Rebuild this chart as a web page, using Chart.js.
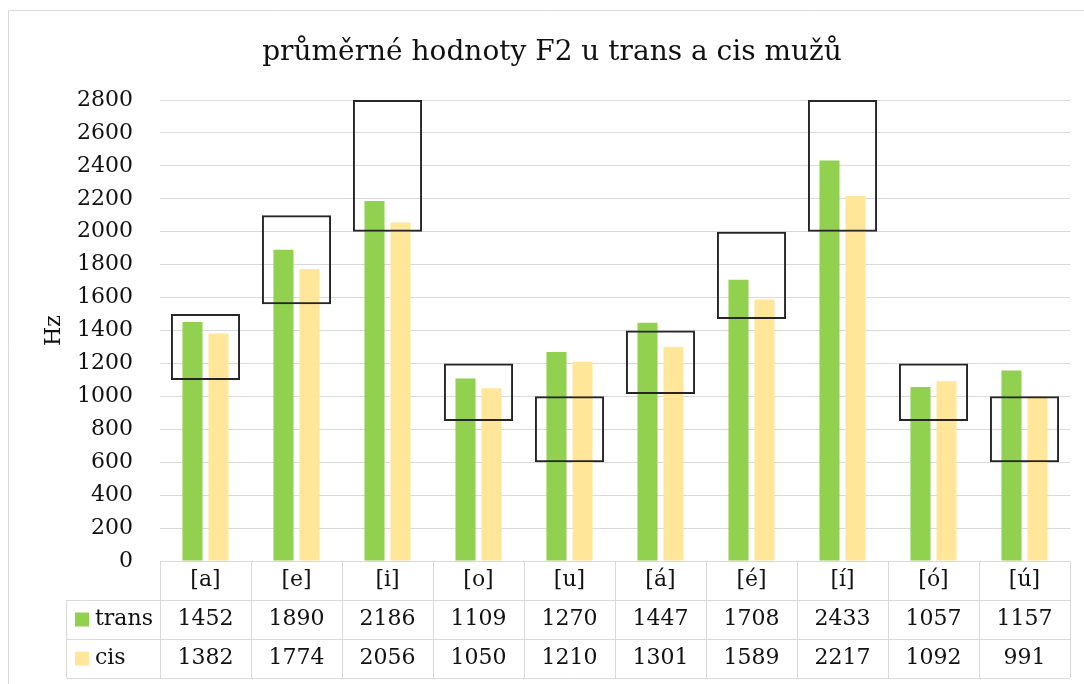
<!DOCTYPE html>
<html>
<head>
<meta charset="utf-8">
<script src="https://cdn.jsdelivr.net/npm/chart.js@4.4.1/dist/chart.umd.min.js"></script>
<style>
    html, body { margin: 0; padding: 0; background: #fff; overflow: hidden; }
    #chart { display: block; }
</style>
</head>
<body>
<canvas id="chart" width="1084" height="684"></canvas>
<script>
const categories = ["[a]", "[e]", "[i]", "[o]", "[u]", "[á]", "[é]", "[í]", "[ó]", "[ú]"];
const transValues = [1452, 1890, 2186, 1109, 1270, 1447, 1708, 2433, 1057, 1157];
const cisValues = [1382, 1774, 2056, 1050, 1210, 1301, 1589, 2217, 1092, 991];
// boxes = range of usual F2 values per vowel
const rangeLow = [1100, 1560, 2000, 850, 600, 1015, 1470, 2000, 850, 600];
const rangeHigh = [1500, 2100, 2800, 1200, 1000, 1400, 2000, 2800, 1200, 1000];
const seriesNames = ["trans", "cis"];
const seriesColors = ["#92d050", "#ffe699"];

const FONT = "'DejaVu Serif', serif";
const TEXT = "#111";
const LINE = "#d9d9d9";

// outer chart frame (only top and left edges are visible in the crop)
const framePlugin = {
    id: "frame",
    beforeDraw(chart) {
        const ctx = chart.ctx;
        ctx.save();
        ctx.strokeStyle = LINE;
        ctx.lineWidth = 1;
        ctx.beginPath();
        ctx.moveTo(8.5, 684);
        ctx.lineTo(8.5, 10.5);
        ctx.lineTo(1084, 10.5);
        ctx.stroke();
        ctx.restore();
    }
};

// data table under the plot, like the Excel one
const tablePlugin = {
    id: "dataTable",
    afterDraw(chart) {
        const ctx = chart.ctx;
        const x = chart.scales.x;
        const area = chart.chartArea;
        const colW = x.getPixelForValue(1) - x.getPixelForValue(0);
        const rowH = 39;
        const top = area.bottom;
        const labelLeft = 66.5;
        const rows = [transValues, cisValues];

        ctx.save();
        ctx.strokeStyle = LINE;
        ctx.lineWidth = 1;
        ctx.beginPath();
        ctx.moveTo(area.left, Math.round(top) + 0.5);
        ctx.lineTo(area.right, Math.round(top) + 0.5);
        for (let r = 1; r <= 3; r++) {
            const y = Math.round(top + r * rowH) + 0.5;
            ctx.moveTo(labelLeft, y);
            ctx.lineTo(area.right, y);
        }
        for (let i = 0; i <= categories.length; i++) {
            const xx = Math.round(area.left + i * colW) + 0.5;
            ctx.moveTo(xx, top);
            ctx.lineTo(xx, top + 3 * rowH);
        }
        ctx.moveTo(labelLeft, top + rowH);
        ctx.lineTo(labelLeft, top + 3 * rowH);
        ctx.stroke();

        ctx.fillStyle = TEXT;
        ctx.font = "22px " + FONT;
        ctx.textAlign = "center";
        ctx.textBaseline = "middle";
        categories.forEach((c, i) => {
            ctx.fillText(c, x.getPixelForValue(i), top + rowH / 2);
        });
        rows.forEach((vals, r) => {
            const cy = top + (r + 1.5) * rowH;
            vals.forEach((v, i) => {
                ctx.fillText(String(v), x.getPixelForValue(i), cy);
            });
        });

        // legend keys
        ctx.textAlign = "left";
        seriesNames.forEach((name, r) => {
            const cy = top + (r + 1.5) * rowH;
            ctx.fillStyle = seriesColors[r];
            ctx.fillRect(75, cy - 7, 14, 14);
            ctx.fillStyle = TEXT;
            ctx.fillText(name, 95, cy);
        });
        ctx.restore();
    }
};

const barCat = 0.572;
const barPct = 0.77;

new Chart(document.getElementById("chart"), {
    type: "bar",
    data: {
        labels: categories,
        datasets: [
            {
                label: "rozsah",
                data: rangeLow.map((lo, i) => [lo, rangeHigh[i]]),
                backgroundColor: "rgba(0,0,0,0)",
                borderColor: "#262626",
                borderWidth: 2,
                borderSkipped: false,
                grouped: false,
                categoryPercentage: 0.76,
                barPercentage: 1,
                order: 0,
                clip: false,
            },
            {
                label: seriesNames[0],
                data: transValues,
                backgroundColor: seriesColors[0],
                categoryPercentage: barCat,
                barPercentage: barPct,
                order: 1,
            },
            {
                label: seriesNames[1],
                data: cisValues,
                backgroundColor: seriesColors[1],
                categoryPercentage: barCat,
                barPercentage: barPct,
                order: 1,
            },
        ],
    },
    options: {
        responsive: false,
        animation: false,
        devicePixelRatio: 1,
        layout: {
            padding: { left: 34, right: 14, top: 0, bottom: 123 },
        },
        plugins: {
            legend: { display: false },
            tooltip: { enabled: false },
            title: {
                display: true,
                text: "průměrné hodnoty F2 u trans a cis mužů",
                color: TEXT,
                font: { family: FONT, size: 28, weight: "normal", lineHeight: 1.2 },
                padding: { top: 36, bottom: 30.4 },
            },
        },
        scales: {
            x: {
                display: false,
            },
            y: {
                min: 0,
                max: 2800,
                ticks: {
                    stepSize: 200,
                    color: TEXT,
                    padding: 27,
                    font: { family: FONT, size: 22 },
                    callback: (v) => String(v),
                },
                grid: {
                    color: LINE,
                    lineWidth: 1,
                    drawTicks: false,
                },
                border: { display: false },
                title: {
                    display: true,
                    text: "Hz",
                    color: TEXT,
                    font: { family: FONT, size: 22 },
                    padding: { top: 7, bottom: 0 },
                },
                afterFit(scale) {
                    scale.width = 126;
                },
            },
        },
    },
    plugins: [framePlugin, tablePlugin],
});
</script>
</body>
</html>
